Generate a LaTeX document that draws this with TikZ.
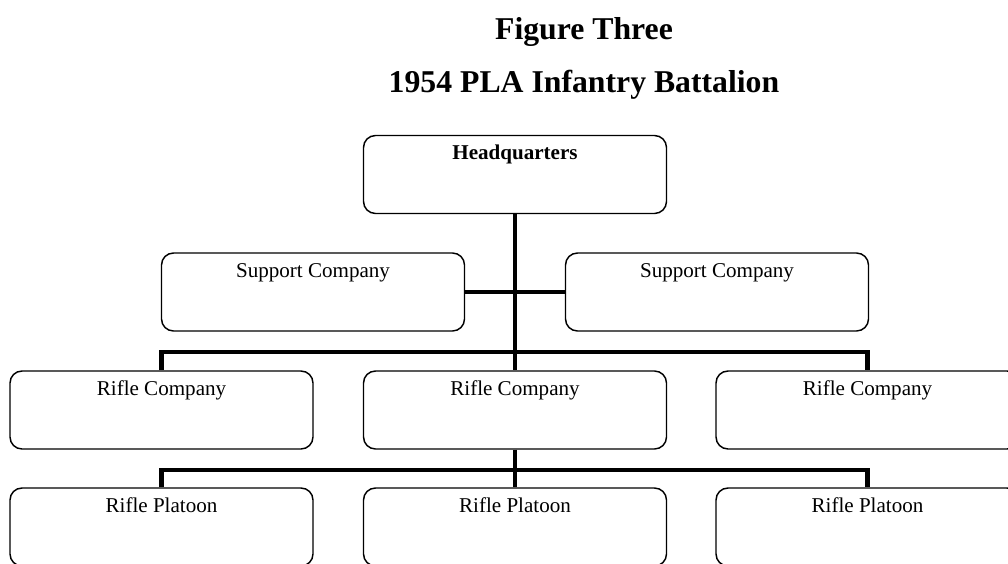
\documentclass[tikz,border=0pt]{standalone}
\usepackage{fontspec}
\setmainfont{Liberation Serif}
\begin{document}
\begin{tikzpicture}[x=0.75pt,y=-0.75pt,
    unit/.style={draw,line width=1.1pt,rounded corners=9pt,minimum width=227.25pt,
      inner xsep=0pt,inner ysep=0pt,text height=18pt,text depth=40.5pt,
      font=\fontsize{15.8}{18}\selectfont},
    title/.style={anchor=base,font=\fontsize{23.8}{28}\selectfont\bfseries},
    link/.style={line width=3.6pt}]
      \useasboundingbox (0,0) rectangle (1008,564);
      \clip (0,0) rectangle (1008,564);
      \node[title] (t1) at (584,40) {Figure Three};
      \node[title] (t2) at (584,92) {1954 PLA Infantry Battalion};
      \draw
        (515,174.5) node[unit] (hq){\bfseries Headquarters}
        (313,292) node[unit] (sc1){Support Company}
        (717,292) node[unit] (sc2){Support Company}
        (161.5,410) node[unit] (rc1){Rifle Company}
        (515,410) node[unit] (rc2){Rifle Company}
        (867.5,410) node[unit] (rc3){Rifle Company}
        (161.5,527) node[unit] (rp1){Rifle Platoon}
        (515,527) node[unit] (rp2){Rifle Platoon}
        (867.5,527) node[unit] (rp3){Rifle Platoon};
      \coordinate (bus1) at (515,352);
      \coordinate (bus2) at (515,470);
      \begin{scope}[link]
        \draw (hq) to (rc2);
        \draw (sc1) to (sc2);
        \draw (rc1.north) |- (bus1) -| (rc3.north);
        \draw (rc2) to (rp2);
        \draw (rp1.north) |- (bus2) -| (rp3.north);
      \end{scope}
\end{tikzpicture}
\end{document}
